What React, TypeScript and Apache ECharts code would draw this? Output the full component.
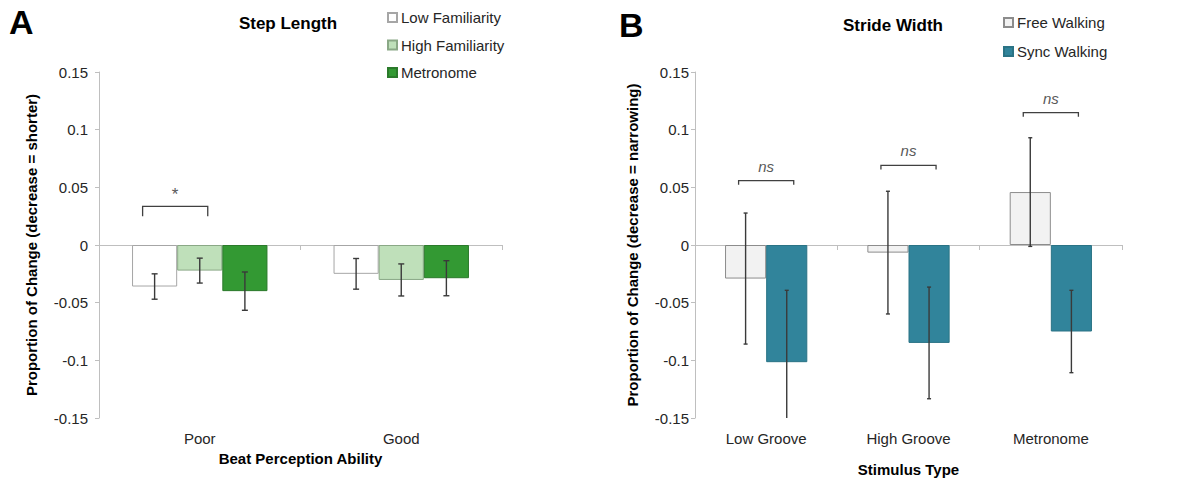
import React, { useEffect, useRef } from "react";
import * as echarts from "echarts";

// ---------- Data ----------
const categoriesA = ["Poor", "Good"];
const seriesNamesA = ["Low Familiarity", "High Familiarity", "Metronome"];
const lowFamMean = [-0.036, -0.025];
const lowFamErr = [0.011, 0.0133];
const highFamMean = [-0.0222, -0.0303];
const highFamErr = [0.0108, 0.0139];
const metroMean = [-0.040, -0.0288];
const metroErr = [0.0166, 0.0152];

const categoriesB = ["Low Groove", "High Groove", "Metronome"];
const seriesNamesB = ["Free Walking", "Sync Walking"];
const freeMean = [-0.0291, -0.0066, 0.0459];
const freeErr = [0.0568, 0.0532, 0.0471];
const syncMean = [-0.1016, -0.0849, -0.075];
const syncErr = [0.0623, 0.0484, 0.0357];

const sigCatA = [0];
const sigLevelA = [0.0335];
const sigTextA = ["*"];
const sigCatB = [0, 1, 2];
const sigLevelB = [0.0558, 0.069, 0.1147];
const sigTextB = ["ns", "ns", "ns"];

const yTicks = [-0.15, -0.1, -0.05, 0, 0.05, 0.1, 0.15];

const FONT = "'Liberation Sans', Arial, sans-serif";
const TXT = "#262626";
const AXIS = "#bfbfbf";

function errData(means: number[][], errs: number[][], yMin: number) {
  const out: any[] = [];
  means.forEach((m, si) => {
    m.forEach((v, ci) => {
      const lo = v - errs[si][ci];
      out.push([ci, si, Math.max(lo, yMin), v + errs[si][ci], lo < yMin ? 1 : 0]);
    });
  });
  return out;
}

function errSeries(data: any[], n: number, frac: number, cap: number, xIdx: number, yIdx: number) {
  return {
    type: "custom",
    xAxisIndex: xIdx,
    yAxisIndex: yIdx,
    silent: true,
    z: 10,
    encode: { x: 0, y: [2, 3] },
    data,
    renderItem: (params: any, api: any) => {
      const ci = api.value(0);
      const si = api.value(1);
      const lo = api.coord([ci, api.value(2)]);
      const hi = api.coord([ci, api.value(3)]);
      const band = api.size([1, 0])[0];
      const x = lo[0] + (si - (n - 1) / 2) * band * frac;
      const style = { stroke: "#3a3a3a", lineWidth: 1.4 };
      const children: any[] = [
        { type: "line", shape: { x1: x, y1: hi[1], x2: x, y2: lo[1] }, style },
        { type: "line", shape: { x1: x - cap / 2, y1: hi[1], x2: x + cap / 2, y2: hi[1] }, style },
      ];
      if (!api.value(4)) {
        children.push({ type: "line", shape: { x1: x - cap / 2, y1: lo[1], x2: x + cap / 2, y2: lo[1] }, style });
      }
      return { type: "group", children };
    },
  };
}

function sigSeries(cats: number[], levels: number[], texts: string[], n: number, frac: number,
  s0: number, s1: number, padL: number, padR: number, dropPx: number, italic: boolean, xIdx: number, yIdx: number) {
  return {
    type: "custom",
    xAxisIndex: xIdx,
    yAxisIndex: yIdx,
    silent: true,
    z: 10,
    encode: { x: 0, y: 1 },
    data: cats.map((c, i) => [c, levels[i], i]),
    renderItem: (params: any, api: any) => {
      const ci = api.value(0);
      const p = api.coord([ci, api.value(1)]);
      const band = api.size([1, 0])[0];
      const xa = p[0] + (s0 - (n - 1) / 2) * band * frac - padL;
      const xb = p[0] + (s1 - (n - 1) / 2) * band * frac + padR;
      const t = texts[api.value(2)];
      return {
        type: "group",
        children: [
          {
            type: "polyline",
            shape: { points: [[xa, p[1] + dropPx], [xa, p[1]], [xb, p[1]], [xb, p[1] + dropPx]] },
            style: { stroke: "#404040", lineWidth: 1.3, fill: "none" },
          },
          {
            type: "text",
            x: (xa + xb) / 2,
            y: p[1] - (italic ? 7 : 3),
            style: {
              text: t,
              fontFamily: FONT,
              fontSize: italic ? 15 : 17,
              fontStyle: italic ? "italic" : "normal",
              fill: "#595959",
              align: "center",
              verticalAlign: "bottom",
            },
          },
        ],
      };
    },
  };
}

function yAxis(gridIndex: number, name: string, nameGap: number, labelMargin: number) {
  return {
    type: "value",
    gridIndex,
    min: -0.15,
    max: 0.15,
    interval: 0.05,
    name,
    nameLocation: "middle",
    nameRotate: 90,
    nameGap,
    nameTextStyle: { fontFamily: FONT, fontSize: 15, fontWeight: "bold", color: "#000" },
    axisLine: { show: true, lineStyle: { color: AXIS, width: 1 } },
    axisTick: { show: true, length: 4, lineStyle: { color: AXIS } },
    splitLine: { show: false },
    axisLabel: {
      margin: labelMargin,
      fontFamily: FONT,
      fontSize: 15,
      color: TXT,
      formatter: (v: number) => {
        const r = parseFloat(v.toFixed(2));
        const tick = yTicks.find((t) => Math.abs(t - r) < 1e-9);
        return String(tick === undefined ? r : tick);
      },
    },
  };
}

function xAxes(gridIndex: number, cats: string[], name: string, nameGap: number) {
  return [
    {
      type: "category",
      gridIndex,
      data: cats,
      position: "bottom",
      axisLine: { show: true, onZero: true, lineStyle: { color: AXIS, width: 1 } },
      axisTick: { show: true, length: 5, lineStyle: { color: AXIS } },
      axisLabel: { show: false },
      splitLine: { show: false },
    },
    {
      type: "category",
      gridIndex,
      data: cats,
      position: "bottom",
      axisLine: { show: false, onZero: false },
      axisTick: { show: false },
      axisLabel: { show: true, margin: 13, fontFamily: FONT, fontSize: 15, color: TXT, interval: 0 },
      name,
      nameLocation: "middle",
      nameGap,
      nameTextStyle: { fontFamily: FONT, fontSize: 15, fontWeight: "bold", color: "#000" },
      splitLine: { show: false },
    },
  ];
}

export default function App() {
  const ref = useRef<HTMLDivElement>(null);
  useEffect(() => {
    document.body.style.margin = "0";
    const chart = echarts.init(ref.current!, null, { renderer: "svg" });
    const fracA = 0.224;
    const fracB = 0.289;
    const colorsA = [
      { color: "#ffffff", borderColor: "#a6a6a6" },
      { color: "#bfe0ba", borderColor: "#8aa886" },
      { color: "#339933", borderColor: "#2b7a2b" },
    ];
    const colorsB = [
      { color: "#f2f2f2", borderColor: "#8c8c8c" },
      { color: "#31849b", borderColor: "#2a7385" },
    ];
    const meansA = [lowFamMean, highFamMean, metroMean];
    const errsA = [lowFamErr, highFamErr, metroErr];
    const meansB = [freeMean, syncMean];
    const errsB = [freeErr, syncErr];

    const option: any = {
      animation: false,
      textStyle: { fontFamily: FONT },
      title: [
        {
          text: "Step Length",
          left: 288,
          top: 15,
          textAlign: "center",
          padding: 0,
          textStyle: { fontFamily: FONT, fontSize: 17, fontWeight: "bold", color: "#000" },
        },
        {
          text: "Stride Width",
          left: 893,
          top: 17,
          textAlign: "center",
          padding: 0,
          textStyle: { fontFamily: FONT, fontSize: 17, fontWeight: "bold", color: "#000" },
        },
      ],
      graphic: [
        { type: "text", left: 9, top: 5, style: { text: "A", fontFamily: FONT, fontSize: 34, fontWeight: "bold", fill: "#000" } },
        { type: "text", left: 619, top: 8, style: { text: "B", fontFamily: FONT, fontSize: 34, fontWeight: "bold", fill: "#000" } },
      ],
      legend: [
        {
          data: seriesNamesA,
          orient: "vertical",
          left: 387,
          top: 10,
          padding: 0,
          itemWidth: 9,
          itemHeight: 9,
          itemGap: 12.5,
          icon: "rect",
          selectedMode: false,
          textStyle: { fontFamily: FONT, fontSize: 15, color: TXT, padding: [0, 0, 0, -1] },
        },
        {
          data: seriesNamesB,
          orient: "vertical",
          left: 1003,
          top: 15,
          padding: 0,
          itemWidth: 9,
          itemHeight: 9,
          itemGap: 14,
          icon: "rect",
          selectedMode: false,
          textStyle: { fontFamily: FONT, fontSize: 15, color: TXT, padding: [0, 0, 0, -1] },
        },
      ],
      grid: [
        { left: 99, top: 72, width: 403, height: 346, containLabel: false, outerBoundsMode: "none" },
        { left: 695, top: 72, width: 427, height: 346, containLabel: false, outerBoundsMode: "none" },
      ],
      xAxis: [
        ...xAxes(0, categoriesA, "Beat Perception Ability", 33),
        ...xAxes(1, categoriesB, "Stimulus Type", 44),
      ],
      yAxis: [
        yAxis(0, "Proportion of Change (decrease = shorter)", 60, 11),
        yAxis(1, "Proportion of Change (decrease = narrowing)", 55, 6),
      ],
      series: [
        ...seriesNamesA.map((name, i) => ({
          type: "bar",
          name,
          xAxisIndex: 0,
          yAxisIndex: 0,
          data: meansA[i],
          barWidth: fracA * 100 + "%",
          barGap: "0%",
          itemStyle: { color: colorsA[i].color, borderColor: colorsA[i].borderColor, borderWidth: 1 },
        })),
        ...seriesNamesB.map((name, i) => ({
          type: "bar",
          name,
          xAxisIndex: 2,
          yAxisIndex: 1,
          data: meansB[i],
          barWidth: fracB * 100 + "%",
          barGap: "0%",
          itemStyle: { color: colorsB[i].color, borderColor: colorsB[i].borderColor, borderWidth: 1 },
        })),
        errSeries(errData(meansA, errsA, -0.15), 3, fracA, 6, 0, 0),
        errSeries(errData(meansB, errsB, -0.15), 2, fracB, 4, 2, 1),
        sigSeries(sigCatA, sigLevelA, sigTextA, 3, fracA, 0, 1, 12, 8, 10, false, 0, 0),
        sigSeries(sigCatB, sigLevelB, sigTextB, 2, fracB, 0, 1, 7, 7, 4, true, 2, 1),
      ],
    };
    chart.setOption(option);
    return () => chart.dispose();
  }, []);
  return <div ref={ref} style={{ width: 1193, height: 483 }} />;
}
